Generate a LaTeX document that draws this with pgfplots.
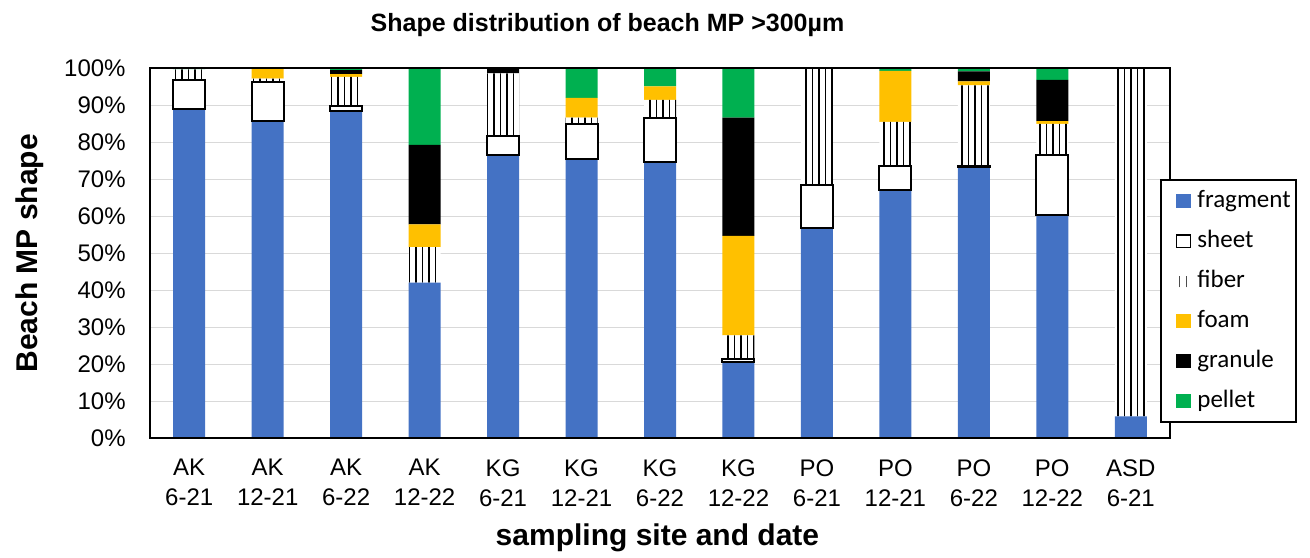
\documentclass[border=0pt]{standalone}
\usepackage{pgfplots}
\pgfplotsset{compat=1.18}
\usepackage{fontspec}
\setmainfont{Liberation Sans}
\newfontfamily\legendfont{Carlito}
\usetikzlibrary{patterns.meta}
\definecolor{frag}{HTML}{4472C4}
\definecolor{foamc}{HTML}{FFC000}
\definecolor{pelletc}{HTML}{00B050}
\definecolor{gridc}{HTML}{D9D9D9}
\newcommand{\lbb}{\pgfpathrectangle{\pgfpoint{0pt}{-3.5pt}}{\pgfpoint{15.8pt}{7pt}}\pgfusepath{use as bounding box}}
\begin{document}
\begin{tikzpicture}
\begin{axis}[
  name=ax, scale only axis, width=510pt, height=185pt,
  ybar stacked, bar width=16pt,
  xmin=-0.5, xmax=12.5, ymin=0, ymax=100,
  xtick={0,...,12},
  xticklabels={{AK\\6-21},{AK\\12-21},{AK\\6-22},{AK\\12-22},{KG\\6-21},{KG\\12-21},{KG\\6-22},{KG\\12-22},{PO\\6-21},{PO\\12-21},{PO\\6-22},{PO\\12-22},{ASD\\6-21}},
  xticklabel style={align=center, anchor=north, inner sep=0pt, yshift=-10.35pt},
  ytick={0,10,...,100},
  yticklabels={0\%,10\%,20\%,30\%,40\%,50\%,60\%,70\%,80\%,90\%,100\%},
  yticklabel style={anchor=east, inner sep=0pt, xshift=-12pt},
  tick label style={font=\fontsize{12}{15}\selectfont},
  major tick length=0pt,
  ymajorgrids, major grid style={draw=gridc, line width=0.6pt},
  axis line style={draw=none},
  title={Shape distribution of beach MP >300µm},
  title style={at={(0.4485,1)}, anchor=base, yshift=12.5pt, font=\bfseries\fontsize{12.5}{15}\selectfont},
  xlabel={sampling site and date},
  xlabel style={at={(axis description cs:0.4975,0)}, anchor=north, inner sep=0pt, yshift=-42.5pt, font=\bfseries\fontsize{15}{18}\selectfont},
  ylabel={Beach MP shape},
  ylabel style={at={(axis description cs:-0.1176,0.5)}, anchor=center, inner sep=0pt, font=\bfseries\fontsize{15}{18}\selectfont},
]
% fragment
\addplot[fill=frag, draw=none] coordinates {(0,89.0) (1,85.8) (2,88.4) (3,42.1) (4,76.7) (5,75.6) (6,74.8) (7,20.6) (8,56.9) (9,67.0) (10,73.2) (11,60.3) (12,5.9)};
% sheet
\addplot[fill=white, draw=none] coordinates {(0,7.8) (1,10.5) (2,1.4) (3,0) (4,5.1) (5,9.3) (6,11.8) (7,0.9) (8,11.6) (9,6.5) (10,0.3) (11,16.4) (12,0)};
% fiber
\addplot[fill=white, draw=none, postaction={pattern={Lines[angle=90,distance=3.25pt,line width=0.6pt]}, pattern color=black}] coordinates {(0,2.9) (1,0.9) (2,7.9) (3,9.6) (4,16.8) (5,1.8) (6,4.9) (7,6.3) (8,31.5) (9,12.0) (10,21.9) (11,8.3) (12,94.1)};
% foam
\addplot[fill=foamc, draw=none] coordinates {(0,0) (1,2.8) (2,0.7) (3,6.1) (4,0) (5,5.3) (6,3.6) (7,26.9) (8,0) (9,13.8) (10,1.1) (11,0.7) (12,0)};
% granule
\addplot[fill=black, draw=none] coordinates {(0,0) (1,0) (2,1.1) (3,21.5) (4,1.4) (5,0) (6,0) (7,32.0) (8,0) (9,0) (10,2.7) (11,11.2) (12,0)};
% pellet
\addplot[fill=pelletc, draw=none] coordinates {(0,0.3) (1,0) (2,0.5) (3,20.7) (4,0) (5,8.0) (6,4.9) (7,13.3) (8,0) (9,0.7) (10,0.8) (11,3.1) (12,0)};
\end{axis}
\begin{axis}[
  at={(ax.south west)}, anchor=south west,
  scale only axis, width=510pt, height=185pt,
  ybar stacked, bar width=16pt,
  xmin=-0.5, xmax=12.5, ymin=0, ymax=100,
  xtick=\empty, ytick=\empty,
  axis line style={line width=1pt, draw=black},
  legend cell align=left,
  legend style={at={(0.990,0.700)}, anchor=north west, draw=black, line width=1pt, fill=white,
    font=\legendfont\fontsize{12.5}{15}\selectfont,
    inner xsep=2.5pt, inner ysep=4.5pt, row sep=8pt,
    nodes={inner sep=0pt, text height=9pt, text depth=3pt}},
]
% invisible base (fragment) and sheet outlines
\addplot[draw=none, fill=none, forget plot] coordinates {(0,89.0) (1,85.8) (2,88.4) (4,76.7) (5,75.6) (6,74.8) (7,20.6) (8,56.9) (9,67.0) (10,73.2) (11,60.3)};
\addplot[draw=black, line width=1pt, fill=none, forget plot] coordinates {(0,7.8) (1,10.5) (2,1.4) (4,5.1) (5,9.3) (6,11.8) (7,0.9) (8,11.6) (9,6.5) (10,0.3) (11,16.4)};
\addlegendimage{legend image code/.code={\lbb \path[fill=frag, draw=none] (5pt,-3.5pt) rectangle (12.5pt,3.5pt);}}
\addlegendimage{legend image code/.code={\lbb \path[draw=black, line width=0.7pt, fill=white] (5.3pt,-3.2pt) rectangle (12.2pt,3.2pt);}}
\addlegendimage{legend image code/.code={\lbb \path[draw=black!70, line width=0.6pt, fill=none] (7pt,-3pt)--(7pt,2.5pt) (10.5pt,-3pt)--(10.5pt,2.5pt);}}
\addlegendimage{legend image code/.code={\lbb \path[fill=foamc, draw=none] (5pt,-3.5pt) rectangle (12.5pt,3.5pt);}}
\addlegendimage{legend image code/.code={\lbb \path[fill=black, draw=none] (5pt,-3.5pt) rectangle (12.5pt,3.5pt);}}
\addlegendimage{legend image code/.code={\lbb \path[fill=pelletc, draw=none] (5pt,-3.5pt) rectangle (12.5pt,3.5pt);}}
\legend{fragment,sheet,fiber,foam,granule,pellet}
\end{axis}
\pgfresetboundingbox
\path ([shift={(-75pt,-59.35pt)}]ax.south west) rectangle ([shift={(70pt,34.15pt)}]ax.north east);
\end{tikzpicture}
\end{document}
